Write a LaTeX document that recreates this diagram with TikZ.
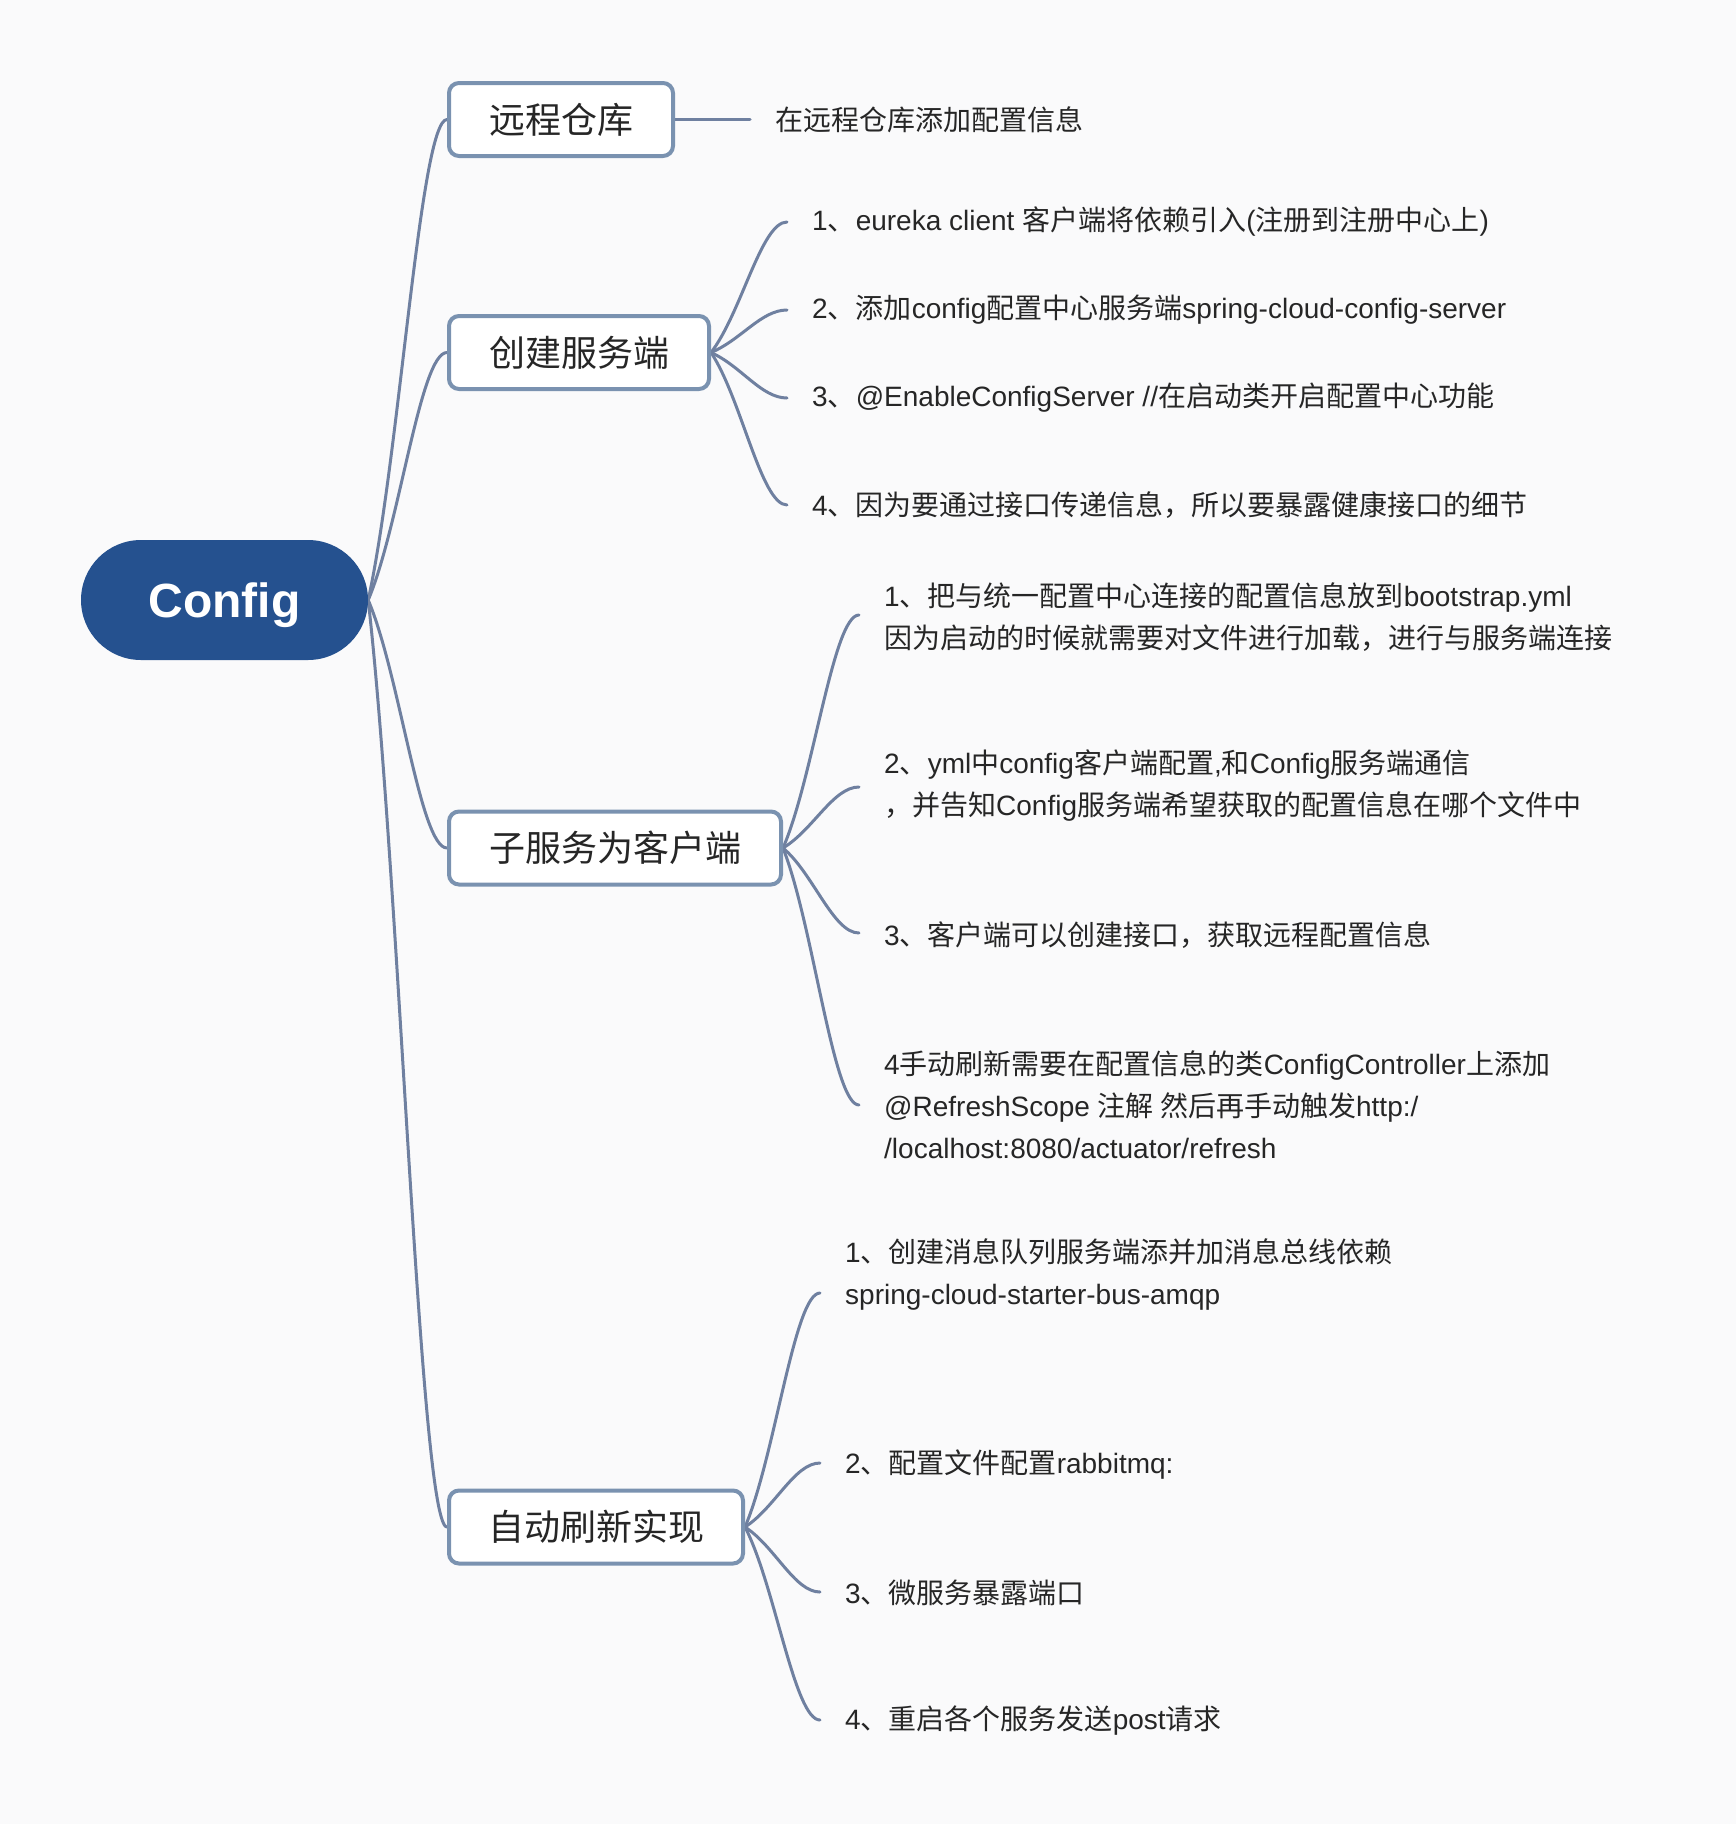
\documentclass[tikz,border=0pt]{standalone}
\usepackage{fontspec}
\setmainfont{Liberation Sans}
\newfontfamily\latf{Liberation Sans}
\newfontfamily\cjkf{Noto Sans CJK SC}
\newfontfamily\cfgfont{Liberation Sans}
\XeTeXinterchartokenstate=1
\newXeTeXintercharclass\cjkcls
\newcount\cc
\def\setcls#1#2{\cc=#1\relax\loop\XeTeXcharclass\cc=\cjkcls\relax\ifnum\cc<#2\relax\advance\cc by 1\relax\repeat}
\setcls{"3000}{"303F}
\setcls{"4E00}{"9FFF}
\setcls{"FF00}{"FFEF}
\XeTeXinterchartoks 0 \cjkcls = {\cjkf}
\XeTeXinterchartoks 4095 \cjkcls = {\cjkf}
\XeTeXinterchartoks \cjkcls 0 = {\latf}
\XeTeXinterchartoks 4095 0 = {\latf}
\usetikzlibrary{calc}
\pgfdeclarelayer{bglayer}
\pgfsetlayers{bglayer,main}
\definecolor{bgc}{RGB}{250,250,251}
\definecolor{rootblue}{RGB}{37,81,143}
\definecolor{boxborder}{RGB}{122,146,176}
\definecolor{connc}{RGB}{111,128,160}
\definecolor{txt}{RGB}{38,38,38}
\newcommand\curveconn[2]{\draw[conn] let \p1=(#1), \p2=(#2) in (\p1) .. controls ({\x1+0.4*(\x2-\x1)},{\y1+0.3*(\y2-\y1)}) and ({\x1+0.66*(\x2-\x1)},\y2) .. (\p2);}
\begin{document}
\begin{tikzpicture}[x=1pt,y=-1pt,
  rootnode/.style={fill=rootblue, text=white, rounded corners=60pt, minimum width=287pt, minimum height=120pt, inner sep=0pt, text height=34.5pt, text depth=0pt, font=\cfgfont\bfseries\fontsize{48}{48}\selectfont},
  topicbox/.style={draw=boxborder, line width=4pt, fill=white, rounded corners=10pt, minimum height=73pt, inner sep=0pt, text=txt, font=\fontsize{36}{40}\selectfont},
  leaf/.style={anchor=west, inner sep=0pt, align=left, text=txt, font=\fontsize{28}{42}\selectfont},
  conn/.style={draw=connc, line width=3pt, line cap=round}]
\useasboundingbox (0,0) rectangle (1736,1824);
\begin{pgfonlayer}{bglayer}
\fill[bgc] (0,0) rectangle (1736,1824);
\end{pgfonlayer}

\node[rootnode] (root) at (224.5,600) {Config};

\node[topicbox, minimum width=224pt] (b1) at (561,119.5) {远程仓库};
\node[topicbox, minimum width=260pt] (b2) at (579,352.5) {创建服务端};
\node[topicbox, minimum width=332pt] (b3) at (615,848) {子服务为客户端};
\node[topicbox, minimum width=294pt] (b4) at (596,1527) {自动刷新实现};

% leaves of b1
\coordinate (e11) at (750,119.5);
\node[leaf] (t11) at (775,119.5) {在远程仓库添加配置信息};

% leaves of b2
\coordinate (e21) at (787,222);
\coordinate (e22) at (787,310);
\coordinate (e23) at (787,398);
\coordinate (e24) at (787,505);
\node[leaf] (t21) at (812,222) {1、eureka client 客户端将依赖引入(注册到注册中心上)};
\node[leaf] (t22) at (812,310) {2、添加config配置中心服务端spring-cloud-config-server};
\node[leaf] (t23) at (812,398) {3、@EnableConfigServer //在启动类开启配置中心功能};
\node[leaf] (t24) at (812,505) {4、因为要通过接口传递信息，所以要暴露健康接口的细节};

% leaves of b3
\coordinate (e31) at (859,615);
\coordinate (e32) at (859,787);
\coordinate (e33) at (859,933);
\coordinate (e34) at (859,1105);
\node[leaf] (t31) at (884,617) {1、把与统一配置中心连接的配置信息放到bootstrap.yml\\因为启动的时候就需要对文件进行加载，进行与服务端连接};
\node[leaf] (t32) at (884,786) {2、yml中config客户端配置,和Config服务端通信\\，并告知Config服务端希望获取的配置信息在哪个文件中};
\node[leaf] (t33) at (884,935) {3、客户端可以创建接口，获取远程配置信息};
\node[leaf] (t34) at (884,1105) {4手动刷新需要在配置信息的类ConfigController上添加\\@RefreshScope 注解 然后再手动触发http:/\\/localhost:8080/actuator/refresh};

% leaves of b4
\coordinate (e41) at (820,1293);
\coordinate (e42) at (820,1463);
\coordinate (e43) at (820,1592);
\coordinate (e44) at (820,1720);
\node[leaf] (t41) at (845,1274) {1、创建消息队列服务端添并加消息总线依赖\\spring-cloud-starter-bus-amqp};
\node[leaf] (t42) at (845,1465) {2、配置文件配置rabbitmq:};
\node[leaf] (t43) at (845,1593) {3、微服务暴露端口};
\node[leaf] (t44) at (845,1721) {4、重启各个服务发送post请求};

\begin{pgfonlayer}{bglayer}
\curveconn{root.east}{b1.west}
\curveconn{root.east}{b2.west}
\curveconn{root.east}{b3.west}
\curveconn{root.east}{b4.west}
\draw[conn] (b1.east) -- (e11);
\curveconn{b2.east}{e21}
\curveconn{b2.east}{e22}
\curveconn{b2.east}{e23}
\curveconn{b2.east}{e24}
\curveconn{b3.east}{e31}
\curveconn{b3.east}{e32}
\curveconn{b3.east}{e33}
\curveconn{b3.east}{e34}
\curveconn{b4.east}{e41}
\curveconn{b4.east}{e42}
\curveconn{b4.east}{e43}
\curveconn{b4.east}{e44}
\end{pgfonlayer}
\end{tikzpicture}
\end{document}
